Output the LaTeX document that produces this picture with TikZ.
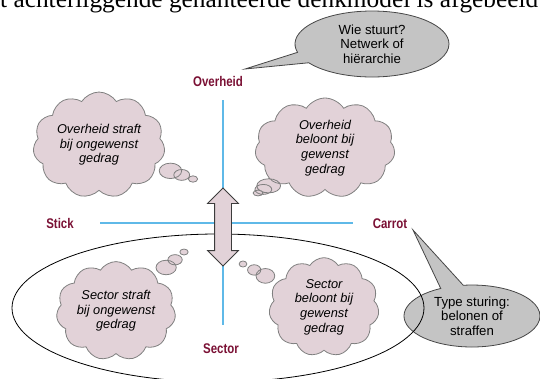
\documentclass[tikz,border=0pt]{standalone}
\usepackage{fontspec}
\setmainfont{Liberation Serif}
\setsansfont{Liberation Sans}
\newfontfamily\axisfont{Liberation Sans}[FakeStretch=0.82]
\usepackage{tikz}
\usetikzlibrary{positioning}
\usetikzlibrary{shapes.symbols, shapes.callouts, shapes.arrows}

\definecolor{labelred}{RGB}{122,16,52}
\definecolor{axisblue}{RGB}{95,185,232}
\definecolor{cloudpink}{RGB}{226,210,216}
\definecolor{cloudline}{RGB}{128,128,128}
\definecolor{calloutgray}{RGB}{196,196,196}

\tikzset{
  axislabel/.style={inner sep=0.75pt, text=labelred, font=\axisfont\bfseries\fontsize{10.5}{12}\selectfont},
  thought/.style={cloud callout, cloud puffs=11, cloud puff arc=115, aspect=1.3,
    draw=cloudline, fill=cloudpink, line width=0.6pt, inner sep=0pt, align=center,
    callout pointer segments=3,
    callout pointer start size=.22 of callout, callout pointer end size=.07 of callout,
    font=\sffamily\itshape\fontsize{9.6}{11}\selectfont},
  remark/.style={ellipse callout, draw={rgb,255:red,70;green,70;blue,70}, fill=calloutgray,
    line width=0.6pt, inner sep=0pt, align=center, callout pointer arc=20,
    font=\sffamily\fontsize{9.9}{11}\selectfont},
}

\begin{document}
\begin{tikzpicture}[x=0.75pt,y=0.75pt,yscale=-1,xscale=1]
\useasboundingbox (0,0) rectangle (540,379);

% Text Node (cut-off line of running text)
\node (runtext) [anchor=base west, inner sep=0pt, font=\rmfamily\fontsize{19}{22}\selectfont] at (-24,7) {het achterliggende gehanteerde denkmodel is afgebeeld};

% Text Node
\node (overheid) [axislabel] at (218,81) {Overheid};
% Text Node
\node (sector) [axislabel] at (221,349) {Sector};
% Text Node
\node (stick) [axislabel] at (60,223) {Stick};
% Text Node
\node (carrot) [axislabel] at (390,224) {Carrot};

%Shape: Callout
\node (typesturing) [remark, minimum width=102pt, minimum height=46.5pt,
  callout absolute pointer={(413,230)}] at (472,316) {Type sturing:\\belonen of\\straffen};

%Shape: Ellipse
\draw [line width=0.6pt] (218,308) ellipse [x radius=206, y radius=74];

%Straight Lines
\coordinate (vtop) at (223,100);
\coordinate (vbot) at (223,325);
\coordinate (hleft) at (100,223);
\coordinate (hright) at (353,223);
\draw [axisblue, line width=0.8pt] (vtop) -- (vbot);
\draw [axisblue, line width=0.8pt] (hleft) -- (hright);

%Shape: Double Arrow
\node (shift) [double arrow, rotate=90, draw={rgb,255:red,60;green,60;blue,60}, fill=cloudpink,
  line width=0.6pt, inner xsep=0pt, inner ysep=6pt, minimum height=58.5pt,
  double arrow head extend=5.25pt] at (223,227) {};

%Shape: Clouds
\node (ostraft) [thought, minimum width=99pt, minimum height=77pt,
  callout absolute pointer={(193,179)}] at (99,145) {Overheid straft\\bij ongewenst\\gedrag};
\node (obeloont) [thought, minimum width=105pt, minimum height=75pt,
  callout absolute pointer={(258,193)}] at (325,148) {Overheid\\beloont bij\\gewenst\\gedrag};
\node (sstraft) [thought, minimum width=88.5pt, minimum height=73.5pt,
  callout absolute pointer={(184,252)}] at (116,311) {Sector straft\\bij ongewenst\\gedrag};
\node (sbeloont) [thought, minimum width=73.5pt, minimum height=74pt,
  callout absolute pointer={(243,264)}] at (324,307) {Sector\\beloont bij\\gewenst\\gedrag};

%Shape: Callout
\node (wiestuurt) [remark, minimum width=115.5pt, minimum height=49.5pt,
  callout absolute pointer={(245,69)}] at (372,44) {Wie stuurt?\\Netwerk of\\hiërarchie};

\end{tikzpicture}
\end{document}
